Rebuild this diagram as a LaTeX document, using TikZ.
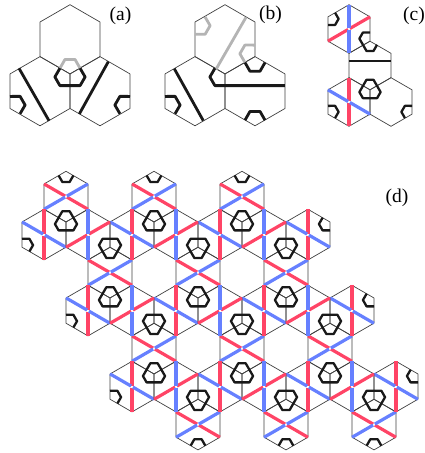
\documentclass[tikz,border=0pt]{standalone}
\usepackage{xcolor}
\usepackage{fontspec}
\setmainfont{Liberation Serif}
\usepackage{tikz}

\definecolor{ribbonred}{HTML}{FF4466}
\definecolor{ribbonblue}{HTML}{6680FF}
\definecolor{shade}{HTML}{B4B4B4}

\tikzset{
  place/.style n args={3}{shift={(#1,#2)},scale=#3},
  celledge/.style={draw=black!75,line width=0.7pt,line join=round},
  ribbon/.style={line width=3.2pt},
  upright/.style={line width=3.15pt},
  thick loop/.style={draw=black!90,line width=2.3pt,line join=round},
  heavy loop/.style={draw=black!90,line width=2.8pt,line join=round},
  straight loop/.style={draw=black!90,line width=2.8pt},
  faint loop/.style={draw=shade,line width=2.8pt,line join=round},
  panel/.style={font=\fontsize{19.5}{22}\selectfont,inner sep=0pt}
}

% hexagon outline, centre and size
\newcommand{\hexcell}[3]{
  \draw[celledge,place={#1}{#2}{#3}] (30:1) -- (90:1) -- (150:1) -- (210:1) -- (270:1) -- (330:1) -- cycle;
}
% half diagonals of one hexagon: angle, colour and style for each
\newcommand{\crossed}[4]{
  \begin{scope}[place={#1}{#2}{#3}]
    \foreach \ang/\col/\sty in {#4}
      \draw[\sty,draw=\col] (\ang:1) -- (\ang:.04);
  \end{scope}
}
\newcommand{\xcell}[3]{\crossed{#1}{#2}{#3}{150/ribbonred/ribbon,330/ribbonred/ribbon,30/ribbonblue/ribbon,210/ribbonblue/ribbon}}
\newcommand{\lcell}[3]{\crossed{#1}{#2}{#3}{90/ribbonred/upright,270/ribbonred/upright,150/ribbonblue/ribbon,330/ribbonblue/ribbon}}
\newcommand{\rcell}[3]{\crossed{#1}{#2}{#3}{30/ribbonred/ribbon,210/ribbonred/ribbon,90/ribbonblue/upright,270/ribbonblue/upright}}
% loop around a vertex
\newcommand{\bigloop}[4]{
  \draw[thick loop,place={#1}{#2}{#3},rotate=#4] (71:.445) -- (109:.445) -- (191:.445) -- (229:.445) -- (311:.445) -- (349:.445) -- cycle;
}
% the piece of a loop inside one hexagon
\newcommand{\piece}[5][thick loop]{
  \draw[#1,place={#2}{#3}{#4},rotate=#5] (150:.335) -- (109:.445) -- (71:.445) -- (30:.335);
}

\begin{document}
\begin{tikzpicture}[x=1pt,y=1pt]
\useasboundingbox (0,0) rectangle (424,453);

% (a)
\foreach \xc/\yc in {70/413.7,40/361.8,100/361.8} {\hexcell{\xc}{\yc}{34.6}}
\draw[heavy loop] (19,384.7) -- (49,332.3);
\draw[heavy loop] (108.3,391.3) -- (79.3,339);
\piece[faint loop]{70}{379}{34.6}{0}
\draw[heavy loop,place={70}{379}{34.6}] (30:.335) -- (349:.445) -- (311:.445) -- (229:.445) -- (191:.445) -- (150:.335);
\piece[heavy loop]{10}{345}{34.6}{-60}
\piece[heavy loop]{130}{345}{34.6}{60}
\node[panel] (labela) at (120.5,437) {(a)};

% (b)
\foreach \xc/\yc in {225/413.7,195/361.8,255/361.8} {\hexcell{\xc}{\yc}{34.6}}
\draw[heavy loop] (174.3,384.3) -- (203.3,332.3);
\draw[faint loop] (246,435.7) -- (216,383.7);
\piece[faint loop]{195}{430.3}{34.6}{240}
\piece[faint loop]{255}{396.3}{34.6}{60}
\piece[heavy loop]{255}{396.3}{34.6}{180}
\piece[heavy loop]{255}{327}{34.6}{0}
\piece[heavy loop]{165}{345}{34.6}{-60}
\draw[heavy loop,place={225}{379}{34.6}] (150:.335) -- (191:.445) -- (229:.445) -- (1.734,-.336);
\node[panel] (labelb) at (270.5,438) {(b)};

% (c)
\foreach \xc/\yc in {349/424,370/387.5,349/351,391/351} {\hexcell{\xc}{\yc}{24.3}}
\rcell{349}{424}{24.3}
\lcell{349}{351}{24.3}
\draw[straight loop] (349,392) -- (391,392);
\bigloop{370}{363}{24.3}{0}
\piece{328}{436.2}{24.3}{240}
\piece{370}{412.3}{24.3}{60}
\piece{370}{412.3}{24.3}{180}
\piece{328}{339}{24.3}{-60}
\piece{412}{339}{24.3}{60}
\node[panel] (labelc) at (414,437) {(c)};

% (d)
\def\da{25.3}
\foreach \xc/\yc in {66/256.4,154/256.4,242/256.4,110/180.4,198/180.4,286/180.4,154/104.4,242/104.4,330/104.4,198/28.4,286/28.4,374/28.4} {
  \hexcell{\xc}{\yc}{\da}
  \xcell{\xc}{\yc}{\da}
}
\foreach \xc/\yc in {44/218.4,132/218.4,220/218.4,308/218.4,88/142.4,176/142.4,264/142.4,352/142.4,132/66.4,220/66.4,308/66.4,396/66.4} {
  \hexcell{\xc}{\yc}{\da}
  \lcell{\xc}{\yc}{\da}
}
\foreach \xc/\yc in {88/218.4,176/218.4,264/218.4,132/142.4,220/142.4,308/142.4,176/66.4,264/66.4,352/66.4} {
  \hexcell{\xc}{\yc}{\da}
  \rcell{\xc}{\yc}{\da}
}
\foreach \vx/\vy in {66/231.1,154/231.1,242/231.1,110/155.1,198/155.1,286/155.1,154/79.1,242/79.1,330/79.1} {
  \bigloop{\vx}{\vy}{\da}{0}
}
\foreach \vx/\vy in {110/205.7,198/205.7,286/205.7,154/129.7,242/129.7,330/129.7,198/53.7,286/53.7,374/53.7} {
  \bigloop{\vx}{\vy}{\da}{180}
}
\foreach \vx/\vy/\rot in {66/281.7/180,154/281.7/180,242/281.7/180,22/205.7/-60,66/129.7/-60,110/53.7/-60,330/231.1/120,374/155.1/120,418/79.1/120,198/3.1/0,286/3.1/0,374/3.1/0} {
  \piece{\vx}{\vy}{\da}{\rot}
}
\node[panel] (labeld) at (397,255) {(d)};

\end{tikzpicture}
\end{document}
